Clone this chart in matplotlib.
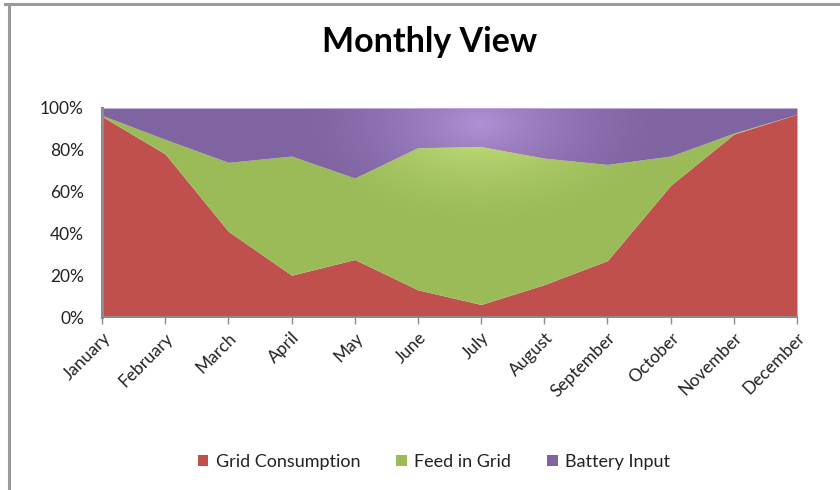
import numpy as np
import matplotlib
matplotlib.use("Agg")
import matplotlib.pyplot as plt
from matplotlib.lines import Line2D
from matplotlib.patches import Patch

plt.rcParams['font.family'] = ['Lato', 'DejaVu Sans']

months = ["January", "February", "March", "April", "May", "June", "July",
          "August", "September", "October", "November", "December"]
grid_consumption = [96, 78, 41, 20, 27.5, 13, 6, 15.5, 27, 63, 87.5, 97]
feed_in_grid = [0.5, 7, 33, 57, 39, 68, 75.5, 60.5, 46, 14, 0.5, 0]
battery_input = [3.5, 15, 26, 23, 33.5, 19, 18.5, 24, 27, 23, 12, 3]
series_names = ["Grid Consumption", "Feed in Grid", "Battery Input"]
colors = ["#C0504D", "#9BBB59", "#8064A2"]
glow_colors = [None, "#D6F08C", "#C0A0E6"]
yticks = [0, 20, 40, 60, 80, 100]

W, H = 840, 490
fig = plt.figure(figsize=(W / 100, H / 100), dpi=100)
fig.patch.set_facecolor("white")

# chart frame (left and top edges)
fig.add_artist(Line2D([9 / W, 9 / W], [0, 1 - 4 / H], color="#9a9a9a", lw=2.2))
fig.add_artist(Line2D([5 / W, 1], [1 - 4 / H, 1 - 4 / H], color="#9a9a9a", lw=2.2))

ax = fig.add_axes([102 / W, 1 - 317 / H, (797 - 102) / W, (317 - 108) / H])

x = np.arange(len(months))
data = np.array([grid_consumption, feed_in_grid, battery_input], dtype=float)
data = data / data.sum(axis=0) * 100
cum = np.vstack([np.zeros(len(months)), np.cumsum(data, axis=0)])

polys = []
for i in range(3):
    p = ax.fill_between(x, cum[i], cum[i + 1], color=colors[i], lw=0, zorder=2)
    polys.append(p)

# soft highlight glow near the top around July
gx = np.linspace(0, 11, 400)
gy = np.linspace(0, 100, 200)
GX, GY = np.meshgrid(gx, gy)
r = np.sqrt(((GX - 6) / 3.0) ** 2 + ((GY - 92) / 50) ** 2)
alpha = 0.75 * np.clip(1 - r, 0, 1) ** 1.6
for p, gc in zip(polys[1:], glow_colors[1:]):
    rgb = matplotlib.colors.to_rgb(gc)
    img = np.zeros((len(gy), len(gx), 4))
    img[..., 0:3] = rgb
    img[..., 3] = alpha
    im = ax.imshow(img, extent=[0, 11, 0, 100], origin="lower", aspect="auto", zorder=3,
                   interpolation="bilinear")
    im.set_clip_path(p.get_paths()[0], transform=ax.transData)

ax.set_xlim(0, 11)
ax.set_ylim(0, 100)
ax.set_xticks(x)
ax.set_xticklabels(months, rotation=45, ha="right", rotation_mode="anchor", fontsize=12.5,
                   color="#222222")
ax.set_yticks(yticks)
ax.set_yticklabels([f"{v}%" for v in yticks], fontsize=12.5, color="#222222")
ax.tick_params(axis="y", length=0, pad=13)
ax.tick_params(axis="x", length=5, width=1, color="#8c8c8c", direction="out", pad=4)
for s in ["top", "right"]:
    ax.spines[s].set_visible(False)
ax.spines["left"].set_color("#8c8c8c")
ax.spines["left"].set_linewidth(2.2)
ax.spines["bottom"].set_color("#8c8c8c")
ax.spines["bottom"].set_linewidth(1.5)
ax.spines["left"].set_zorder(5)
ax.spines["bottom"].set_zorder(5)

fig.text(430 / W, 1 - 42 / H, "Monthly View", ha="center", va="center", fontsize=24.5,
         fontweight="bold", color="#000000")

handles = [Patch(facecolor=c, edgecolor="none") for c in colors]
fig.legend(handles, series_names, loc="center", bbox_to_anchor=(434 / W, 1 - 462 / H),
           ncol=3, frameon=False, fontsize=13, handlelength=0.6, handleheight=0.6,
           handletextpad=0.4, columnspacing=2.0, labelcolor="#222222")

fig.savefig("out.png", dpi=100, facecolor="white")
